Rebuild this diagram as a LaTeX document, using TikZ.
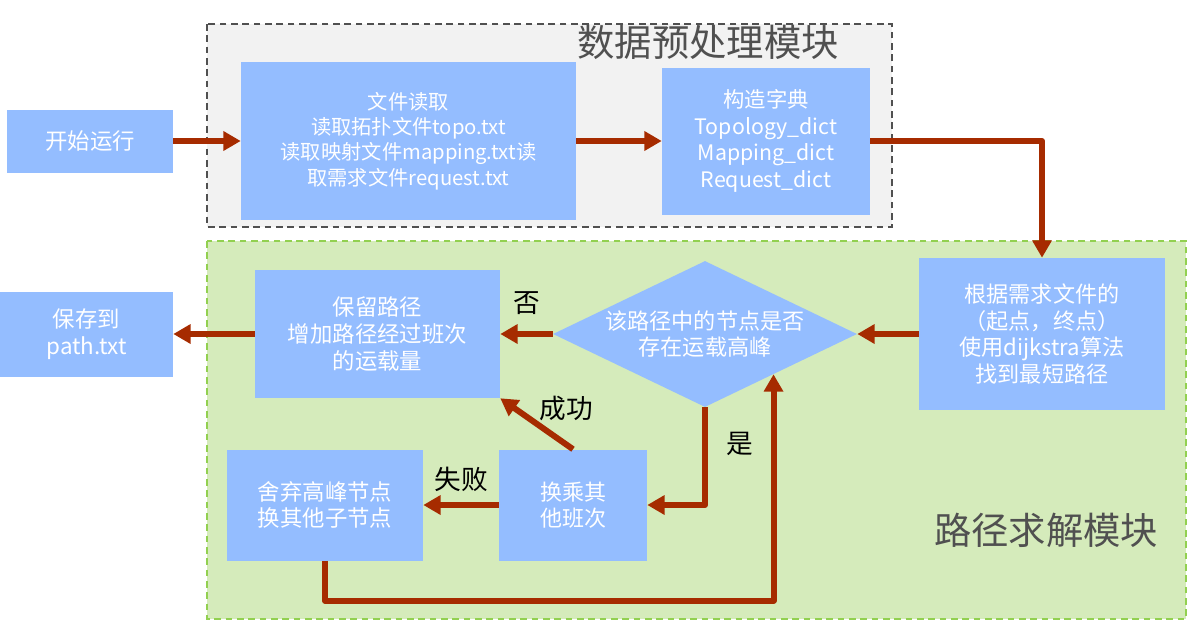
\documentclass[tikz,border=0pt]{standalone}
\usepackage{fontspec}
\setmainfont{Noto Sans CJK SC}
\usetikzlibrary{arrows.meta,shapes.geometric,calc}
\definecolor{boxblue}{HTML}{94BDFF}
\definecolor{flowred}{HTML}{A62B00}
\definecolor{prepgray}{HTML}{F2F2F2}
\definecolor{prepedge}{HTML}{505050}
\definecolor{solvegreen}{HTML}{D5EBBB}
\definecolor{solveedge}{HTML}{92D050}
\definecolor{titlegray}{HTML}{505050}

\begin{document}
\begin{tikzpicture}[x=0.75pt,y=-0.75pt,>={Triangle[length=13pt,width=14pt]},
  flow/.style={->,draw=flowred,line width=4.5pt,line join=round},
  block/.style={fill=boxblue,text=white,align=center,inner sep=0pt,font=\fontsize{16.8}{20}\selectfont},
  decision/.style={diamond,fill=boxblue,text=white,align=center,inner sep=0pt,aspect=2.08,font=\fontsize{16.6}{20}\selectfont},
  region/.style={line width=1.5pt,dash pattern=on 5pt off 3.5pt},
  title/.style={text=titlegray,font=\fontsize{28}{32}\selectfont},
  tag/.style={text=black,inner sep=0pt,font=\fontsize{20}{22}\selectfont}]

  \useasboundingbox (0,0) rectangle (1188,621);

  % the two modules
  \filldraw[region,fill=prepgray,draw=prepedge] (207,24) rectangle (892,227);
  \filldraw[region,fill=solvegreen,draw=solveedge] (207,241) rectangle (1186,619);
  \node[title] (preptitle) at (708,42) {数据预处理模块};
  \node[title] (solvetitle) at (1046,530) {路径求解模块};

  \node[block,minimum width=124.5pt,minimum height=47.25pt] (start) at (90,141) {开始运行};
  \node[block,minimum width=251.25pt,minimum height=118.5pt,font=\fontsize{15.2}{19}\selectfont] (read) at (408.5,141)
    {文件读取\\读取拓扑文件topo.txt\\读取映射文件mapping.txt读\\取需求文件request.txt};
  \node[block,minimum width=156pt,minimum height=110.25pt,font=\fontsize{16}{20}\selectfont] (dict) at (766,141)
    {构造字典\\Topology\_dict\\Mapping\_dict\\Request\_dict};
  \node[block,minimum width=184.5pt,minimum height=114pt,font=\fontsize{16.6}{20}\selectfont] (route) at (1042,334)
    {根据需求文件的\\（起点，终点）\\使用dijkstra算法\\找到最短路径};
  \node[decision,minimum width=228pt,minimum height=109.5pt] (check) at (705,334)
    {该路径中的节点是否\\存在运载高峰};
  \node[block,minimum width=183.75pt,minimum height=96pt] (keep) at (377.5,334)
    {保留路径\\增加路径经过班次\\的运载量};
  \node[block,minimum width=129.75pt,minimum height=63.75pt] (save) at (86.5,334) {保存到\\path.txt};
  \node[block,minimum width=111pt,minimum height=83.25pt,font=\fontsize{16.5}{20}\selectfont] (transfer) at (573,505) {换乘其\\他班次};
  \node[block,minimum width=147pt,minimum height=83.25pt] (discard) at (325,505) {舍弃高峰节点\\换其他子节点};

  \draw[flow] (start) -- (read);
  \draw[flow] (read) -- (dict);
  \draw[flow] (dict) -| (route);
  \draw[flow] (route) -- (check);
  \draw[flow] (check) -- node[tag,above=12pt] {否} (keep);
  \draw[flow] (keep) -- (save);
  \draw[flow] (check) |- node[tag,pos=0.19,right=14pt] {是} (transfer);
  \draw[flow] (transfer.north) -- node[tag,above right] {成功} (keep.south east);
  \draw[flow] (transfer) -- node[tag,above=8pt] {失败} (discard);
  \coordinate (reentry) at ($(check.south)!0.45!(check.east)$);
  \draw[flow] (discard.south) -- ++(0,40) -| (reentry);
\end{tikzpicture}
\end{document}
